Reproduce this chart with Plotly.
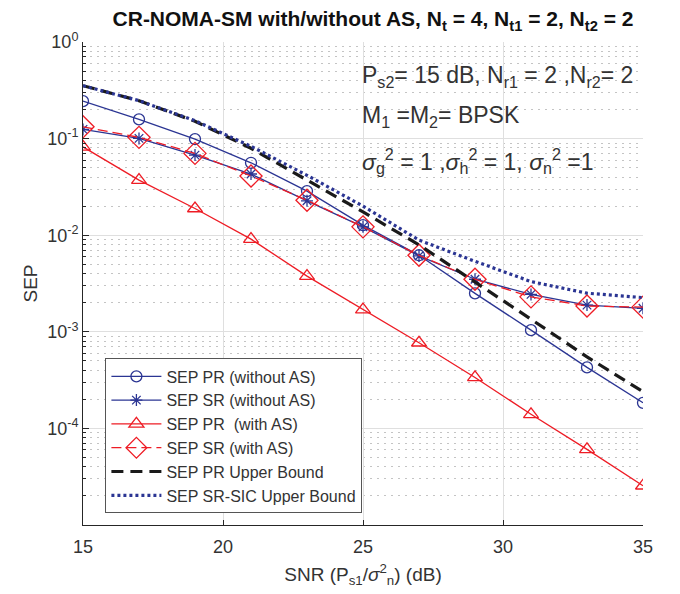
import plotly.graph_objects as go

snr = [15, 17, 19, 21, 23, 25, 27, 29, 31, 33, 35]

sep_pr_noas = [0.244, 0.158, 0.0988, 0.0562, 0.0286, 0.0127, 0.0062, 0.0025, 0.00104, 0.000428, 0.000184]
sep_sr_noas = [0.1245, 0.1005, 0.0675, 0.043, 0.0227, 0.0122, 0.0061, 0.0035, 0.00244, 0.00189, 0.00175]
sep_pr_as = [0.082, 0.0372, 0.0189, 0.0091, 0.00377, 0.0017, 0.00077, 0.000337, 0.00014, 0.0000606, 0.0000255]
sep_sr_as = [0.1325, 0.103, 0.0703, 0.041, 0.023, 0.0122, 0.0062, 0.0035, 0.0023, 0.00185, 0.0018]
pr_upper = [0.353, 0.247, 0.151, 0.0794, 0.0372, 0.0174, 0.00794, 0.00331, 0.00135, 0.00055, 0.00024]
sr_sic_upper = [0.353, 0.247, 0.153, 0.0832, 0.0417, 0.02, 0.0089, 0.00537, 0.00331, 0.00251, 0.00226]

names = ["SEP PR (without AS)", "SEP SR (without AS)", "SEP PR  (with AS)",
         "SEP SR (with AS)", "SEP PR Upper Bound", "SEP SR-SIC Upper Bound"]

ytick_vals = [1e-4, 1e-3, 1e-2, 1e-1, 1]
ytick_text = ["10<sup>-4</sup>", "10<sup>-3</sup>", "10<sup>-2</sup>", "10<sup>-1</sup>", "10<sup>0</sup>"]
xtick_vals = [15, 20, 25, 30, 35]

BLUE = "#2B3593"
RED = "#EE1C25"
BLACK = "#1A1A1A"
FONT = "Liberation Sans, Arial, sans-serif"
TXT = "#333333"

# page body has an 8px margin: shift the figure accordingly
OFF = 8
L, T, PW, PH = 83 - OFF, 42 - OFF, 560, 483

fig = go.Figure()
fig.add_trace(go.Scatter(x=snr, y=sep_pr_noas, name=names[0], mode="lines+markers",
                         line=dict(color=BLUE, width=1.3),
                         marker=dict(symbol="circle-open", size=11, color=BLUE, line=dict(width=1.3))))
fig.add_trace(go.Scatter(x=snr, y=sep_sr_noas, name=names[1], mode="lines+markers",
                         line=dict(color=BLUE, width=1.3),
                         marker=dict(symbol="asterisk-open", size=10, color=BLUE, line=dict(width=1.3, color=BLUE))))
fig.add_trace(go.Scatter(x=snr, y=sep_pr_as, name=names[2], mode="lines+markers",
                         line=dict(color=RED, width=1.3),
                         marker=dict(symbol="triangle-up-open", size=13, color=RED, line=dict(width=1.3))))
fig.add_trace(go.Scatter(x=snr, y=sep_sr_as, name=names[3], mode="lines+markers",
                         line=dict(color=RED, width=1.3, dash="10px,5px"),
                         marker=dict(symbol="diamond-open", size=17, color=RED, line=dict(width=1.3))))
fig.add_trace(go.Scatter(x=snr, y=pr_upper, name=names[4], mode="lines",
                         line=dict(color=BLACK, width=3.2, dash="12px,7px")))
fig.add_trace(go.Scatter(x=snr, y=sr_sic_upper, name=names[5], mode="lines",
                         line=dict(color=BLUE, width=3.2, dash="3px,3px")))

fig.update_layout(
    width=680, height=594,
    paper_bgcolor="white", plot_bgcolor="white",
    margin=dict(l=L, r=680 - L - PW, t=T, b=594 - T - PH, autoexpand=False),
    font=dict(family=FONT, color=TXT, size=18),
    title=dict(text="CR-NOMA-SM with/without AS, N<sub>t</sub> = 4, N<sub>t1</sub> = 2, N<sub>t2</sub> = 2",
               font=dict(family=FONT, size=21, color="#111111", weight="bold"),
               x=(L + PW / 2 + 10) / 680, xref="container", xanchor="center",
               y=1 - (19 - OFF) / 594, yref="container", yanchor="middle"),
    showlegend=True,
    legend=dict(x=0.04, y=0.024, xanchor="left", yanchor="bottom",
                bgcolor="white", bordercolor="#555555", borderwidth=1,
                font=dict(family=FONT, size=16, color=TXT),
                itemwidth=50, tracegroupgap=0),
)

fig.update_xaxes(
    range=[15, 35], tickvals=xtick_vals, ticks="inside", ticklen=5, tickcolor="#262626",
    showline=True, linecolor="#262626", linewidth=1,
    showgrid=True, gridcolor="#DFDFDF", gridwidth=1, zeroline=False,
    tickfont=dict(size=18, color=TXT), ticklabelstandoff=5,
    title=dict(text="SNR (P<sub>s1</sub>/<i>σ</i><sup>2</sup><sub>n</sub>) (dB)", font=dict(size=19, color=TXT), standoff=12),
)
fig.update_yaxes(
    type="log", range=[-5, 0], tickvals=ytick_vals, ticktext=ytick_text,
    ticks="inside", ticklen=6, tickcolor="#262626",
    showline=True, linecolor="#262626", linewidth=1,
    showgrid=True, gridcolor="#DFDFDF", gridwidth=1, zeroline=False,
    tickfont=dict(size=18, color=TXT),
    minor=dict(dtick="D1", ticks="inside", ticklen=3, tickcolor="#262626",
               showgrid=True, gridcolor="#C4C4C4", griddash="2px,5px", gridwidth=1),
    title=dict(text="SEP", font=dict(size=19, color=TXT), standoff=4),
)

ann_font = dict(family=FONT, size=23, color=TXT)
ax = (360 - 83) / PW
fig.add_annotation(xref="paper", yref="paper", x=ax, y=1 - (76 - 42) / PH,
                   xanchor="left", yanchor="middle", showarrow=False, font=ann_font,
                   text="P<sub>s2</sub>= 15 dB, N<sub>r1</sub> = 2 ,N<sub>r2</sub>= 2")
fig.add_annotation(xref="paper", yref="paper", x=ax, y=1 - (117 - 42) / PH,
                   xanchor="left", yanchor="middle", showarrow=False, font=ann_font,
                   text="M<sub>1</sub> =M<sub>2</sub>= BPSK")
fig.add_annotation(xref="paper", yref="paper", x=ax, y=1 - (161 - 42) / PH,
                   xanchor="left", yanchor="middle", showarrow=False, font=ann_font,
                   text="<i>σ</i><sub>g</sub><sup>2</sup> = 1 ,<i>σ</i><sub>h</sub><sup>2</sup> = 1, <i>σ</i><sub>n</sub><sup>2</sup> =1")

fig.write_html("out.html")
